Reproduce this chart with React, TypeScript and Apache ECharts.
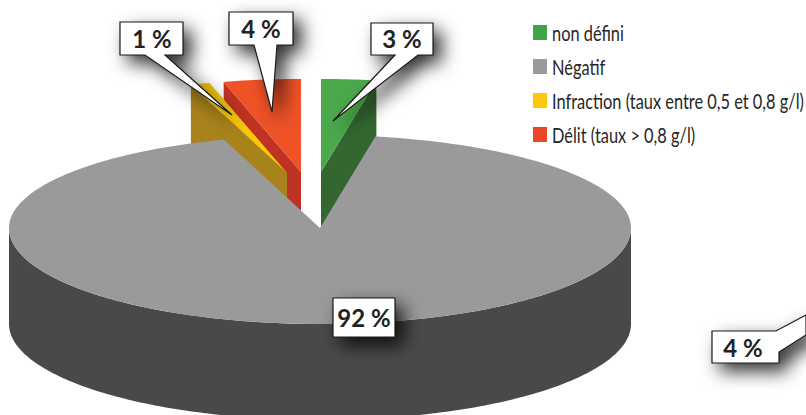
import React, { useEffect, useRef } from "react";
import * as echarts from "echarts";

// Data
const categories = ["non défini", "Négatif", "Infraction (taux entre 0,5 et 0,8 g/l)", "Délit (taux > 0,8 g/l)"];
const values = [2.85, 92.15, 1, 4];
const sliceLabels = ["3 %", "92 %", "1 %", "4 %"];
const sideLabel = "4 %";

// Styling, by category index
const topColors = ["#4aa94b", "#9b9a9a", "#f7c90a", "#f05227"];
const wallColors = ["#33672f", "#4a4947", "#a8831b", "#bf3322"];
const legendColors = ["#3fa648", "#9a9a9a", "#fcc80c", "#e9462a"];
const explodeX = [1, 0, -33, -19];
const explodeY = [-56, 0, -55, -56];
const drawOrder = [3, 2, 0, 1];

const CX = 320, CY = 228, RX = 311, RY_BACK = 93, RY_FRONT = 96, DEPTH = 96;
const FONT = "Lato, 'Liberation Sans', sans-serif";
const LEGEND_X = 552;
const LEGEND_SCALE = 0.78;
const LEGEND_ROWS = [33, 67, 101, 135];

const pt = (deg: number, ox = 0, oy = 0): [number, number] => {
  const r = (deg * Math.PI) / 180;
  const c = Math.cos(r);
  return [CX + ox + RX * Math.sin(r), CY + oy - (c > 0 ? RY_BACK : RY_FRONT) * c];
};
const arc = (from: number, to: number, ox = 0, oy = 0) => {
  const pts: [number, number][] = [];
  const n = Math.max(2, Math.ceil(Math.abs(to - from)));
  for (let i = 0; i <= n; i++) pts.push(pt(from + ((to - from) * i) / n, ox, oy));
  return pts;
};

const total = values.reduce((a, b) => a + b, 0);
const startOf = (i: number) => (values.slice(0, i).reduce((a, b) => a + b, 0) / total) * 360;

const sliceSeries = (i: number) => ({
  type: "custom",
  name: categories[i],
  coordinateSystem: "none",
  silent: true,
  itemStyle: { color: legendColors[i] },
  data: [[values[i]]],
  renderItem: (_p: any, api: any) => {
    const start = startOf(i);
    const end = start + (api.value(0) / total) * 360;
    const ox = explodeX[i], oy = explodeY[i];
    const children: any[] = [];
    if (ox === 0 && oy === 0) {
      const lower = arc(90, 270);
      const lowerShift = arc(270, 90, 0, DEPTH);
      children.push({
        type: "polygon",
        shape: { points: [...lower, ...lowerShift] },
        style: { fill: wallColors[i] },
      });
    } else {
      const wallAngle = start > 180 ? start : end;
      const apex: [number, number] = [CX + ox, CY + oy];
      const rim = pt(wallAngle, ox, oy);
      children.push({
        type: "polygon",
        shape: {
          points: [apex, rim, [rim[0], rim[1] + DEPTH], [apex[0], apex[1] + DEPTH]],
        },
        style: { fill: wallColors[i] },
      });
    }
    children.push({
      type: "polygon",
      shape: { points: [[CX + ox, CY + oy], ...arc(start, end, ox, oy)] },
      style: { fill: topColors[i] },
    });
    return { type: "group", children };
  },
});

const callout = (points: number[][], text: string, tx: number, ty: number) => ({
  type: "group",
  children: [
    {
      type: "polygon",
      z: 10,
      shape: { points },
      style: {
        fill: "#ffffff",
        stroke: "#1a1a1a",
        lineWidth: 1.2,
        shadowBlur: 18,
        shadowColor: "rgba(0,0,0,0.8)",
        shadowOffsetX: 8,
        shadowOffsetY: 8,
      },
    },
    {
      type: "text",
      z: 11,
      x: tx,
      y: ty,
      style: {
        text,
        x: 0,
        y: 0,
        align: "center",
        verticalAlign: "middle",
        fontFamily: FONT,
        fontWeight: "bold",
        fontSize: 24,
        fill: "#222222",
      },
    },
  ],
});

const legendText = (text: string, y: number) => ({
  type: "text",
  z: 11,
  x: LEGEND_X,
  y,
  scaleX: LEGEND_SCALE,
  style: {
    text,
    x: 0,
    y: 0,
    align: "left",
    verticalAlign: "middle",
    fontFamily: FONT,
    fontSize: 21,
    fill: "#262626",
  },
});

export default function App() {
  const ref = useRef<HTMLDivElement>(null);
  useEffect(() => {
    document.body.style.margin = "0";
    const chart = echarts.init(ref.current!, null, { renderer: "svg" });
    chart.setOption({
      animation: false,
      backgroundColor: "#ffffff",
      legend: {
        orient: "vertical",
        left: 533,
        top: 25,
        padding: 0,
        itemWidth: 14,
        itemHeight: 15,
        itemGap: 19,
        icon: "rect",
        selectedMode: false,
        formatter: () => "",
        data: categories.map((name, i) => ({ name, itemStyle: { color: legendColors[i] } })),
      },
      series: drawOrder.map(sliceSeries),
      graphic: {
        elements: [
          ...categories.map((c, i) => legendText(c, LEGEND_ROWS[i])),
          callout([[120, 22], [183, 22], [183, 55], [165, 55], [232, 115], [145, 55], [120, 55]], sliceLabels[2], 152, 38),
          callout([[229, 12], [293, 12], [293, 45], [277, 45], [272, 112], [254, 45], [229, 45]], sliceLabels[3], 261, 28),
          callout([[371, 23], [433, 23], [433, 55], [418, 55], [333, 121], [395, 55], [371, 55]], sliceLabels[0], 402, 38),
          callout([[333, 298], [395, 298], [395, 337], [333, 337]], sliceLabels[1], 364, 317),
          callout([[712, 331], [776, 331], [806, 315], [806, 335], [779, 352], [779, 363], [712, 363]], sideLabel, 743, 347),
        ],
      },
    });
    return () => chart.dispose();
  }, []);
  return <div ref={ref} style={{ position: "absolute", left: 0, top: 0, width: 806, height: 415 }} />;
}
